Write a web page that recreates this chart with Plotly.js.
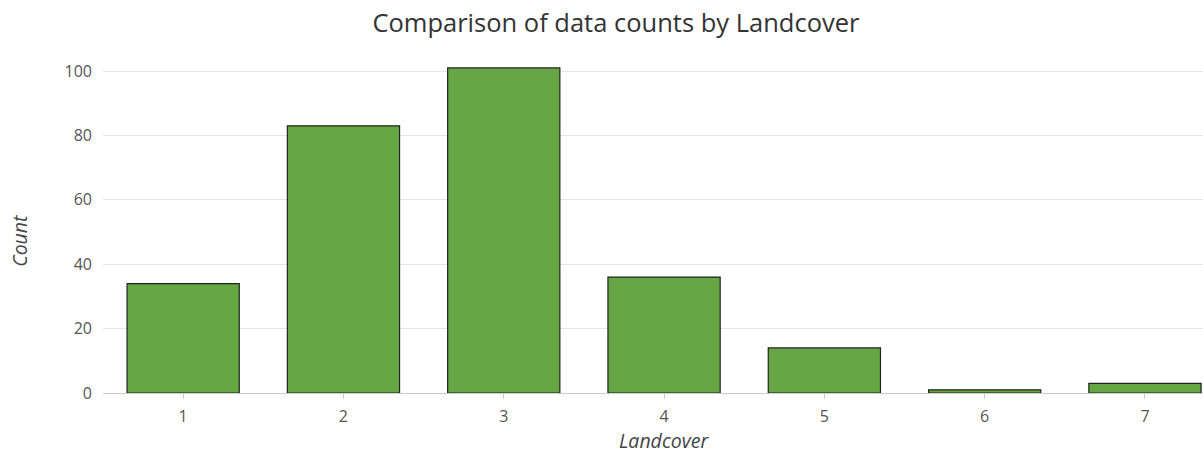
<!DOCTYPE html>
<html><head><meta charset="utf-8">
<script src="https://cdn.plot.ly/plotly-3.0.1.min.js"></script>
<style>html,body{margin:0;padding:0;background:#fff;}</style>
</head><body>
<div id="chart" style="width:1203px;height:453px;"></div>
<script>
const categories = ["1","2","3","4","5","6","7"];
const counts = [34, 83, 101, 36, 14, 1, 3];
const yTicks = [0, 20, 40, 60, 80, 100];
const xTitle = 'Landcover';
const yTitle = 'Count';
const chartTitle = 'Comparison of data counts by Landcover';

const axisTitleFont = {family: 'Open Sans', size: 19.5, color: '#444444', style: 'italic'};

Plotly.newPlot('chart', [{
  type: 'bar',
  x: categories,
  y: counts,
  marker: {color: '#66a644', line: {color: '#222222', width: 1.2}},
  hoverinfo: 'x+y'
}], {
  width: 1203, height: 453,
  margin: {l: 103, r: 0, t: 55, b: 60},
  bargap: 0.3,
  paper_bgcolor: '#ffffff', plot_bgcolor: '#ffffff',
  title: {text: chartTitle, xref: 'container', x: 0.512, xanchor: 'center',
    yref: 'container', y: 0.948, yanchor: 'middle',
    font: {family: 'Open Sans', size: 25.5, color: '#333333'}},
  xaxis: {
    type: 'category', range: [-0.5, 6.362],
    showgrid: false, showline: true, linecolor: '#cccccc', linewidth: 1,
    ticks: 'outside', ticklen: 5, tickcolor: '#cccccc',
    ticklabelstandoff: 4,
    tickfont: {family: 'Open Sans', size: 16, color: '#555555'}
  },
  yaxis: {
    range: [0, 105], tickvals: yTicks,
    showgrid: true, gridcolor: '#e6e6e6', zeroline: false, showline: false,
    ticklabelstandoff: 10,
    tickfont: {family: 'Open Sans', size: 16, color: '#555555'}
  },
  annotations: [
    {text: xTitle, xref: 'paper', yref: 'paper', x: 0.51, y: -0.142, xanchor: 'center', yanchor: 'middle',
     showarrow: false, font: axisTitleFont},
    {text: yTitle, xref: 'paper', yref: 'paper', x: -0.0755, y: 0.453, xanchor: 'center', yanchor: 'middle',
     textangle: -90, showarrow: false, font: axisTitleFont}
  ],
  showlegend: false
}, {displayModeBar: false, staticPlot: true});
</script>
</body></html>
